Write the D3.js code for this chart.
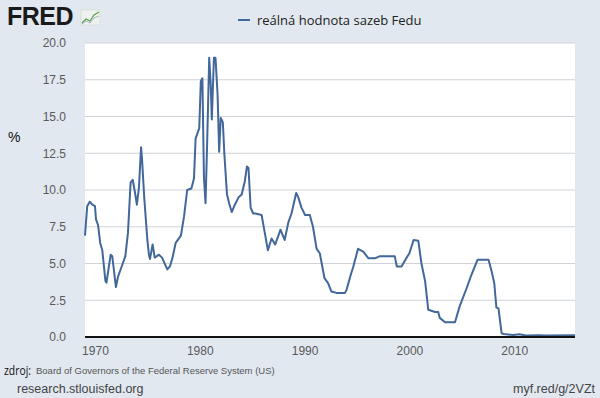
<!DOCTYPE html>
<meta charset="utf-8">
<style>
body { margin: 0; background: #e1e8f0; }
svg { display: block; font-family: "Liberation Sans", Arial, sans-serif; }
.grid line { stroke: #cfd3d8; stroke-width: 1px; }
.axis text { fill: #595959; font-size: 12px; }
.line { fill: none; stroke: #42679a; stroke-width: 2px; stroke-linejoin: round; }
</style>
<svg width="600" height="398"></svg>
<script src="https://cdn.jsdelivr.net/npm/d3@7"></script>
<script>

var years = [
  1969.05, 1969.26, 1969.5, 1969.75, 1970.0, 1970.1, 1970.3, 1970.5, 1970.7, 1971.0,
  1971.1, 1971.5, 1971.65, 1971.8, 1972.0, 1972.2, 1972.6, 1972.9, 1973.15, 1973.4,
  1973.6, 1973.8, 1974.0, 1974.2, 1974.4, 1974.5, 1974.7, 1975.0, 1975.15, 1975.25,
  1975.5, 1975.7, 1976.1, 1976.4, 1976.9, 1977.15, 1977.4, 1977.7, 1978.2, 1978.5,
  1978.8, 1979.2, 1979.45, 1979.6, 1979.8, 1979.95, 1980.1, 1980.25, 1980.4, 1980.55,
  1980.7, 1980.9, 1981.05, 1981.15, 1981.35, 1981.5, 1981.7, 1981.85, 1982.0, 1982.2,
  1982.35, 1982.6, 1982.8, 1983.05, 1983.35, 1983.7, 1984.0, 1984.3, 1984.5, 1984.65,
  1984.85, 1985.1, 1985.3, 1985.9, 1986.2, 1986.5, 1986.85, 1987.2, 1987.5, 1987.7,
  1988.1, 1988.45, 1988.75, 1989.2, 1989.4, 1989.7, 1990.05, 1990.5, 1990.8, 1991.15,
  1991.45, 1991.9, 1992.25, 1992.55, 1993.05, 1993.85, 1994.0, 1994.35, 1994.65, 1995.1,
  1995.6, 1996.1, 1996.7, 1997.2, 1998.6, 1998.8, 1999.25, 1999.7, 2000.0, 2000.4,
  2000.85, 2001.15, 2001.5, 2001.8, 2002.45, 2002.75, 2002.9, 2003.4, 2003.5, 2004.35,
  2004.8, 2005.45, 2005.9, 2006.5, 2007.55, 2007.85, 2008.1, 2008.3, 2008.5, 2008.8,
  2009.0, 2009.9, 2010.5, 2011.1, 2012.4, 2013.0, 2015.8
];
var realRate = [
  6.9, 8.9, 9.2, 9.0, 8.9, 8.0, 7.6, 6.4, 5.9, 3.8,
  3.7, 5.6, 5.5, 4.6, 3.4, 4.1, 4.9, 5.5, 7.1, 10.5,
  10.7, 9.9, 9.0, 10.2, 12.9, 12.0, 9.5, 6.6, 5.6, 5.3,
  6.3, 5.4, 5.6, 5.4, 4.6, 4.8, 5.4, 6.4, 6.9, 8.2,
  10.0, 10.1, 10.8, 13.5, 13.9, 14.2, 17.4, 17.6, 10.8, 9.1,
  13.1, 19.0, 17.1, 14.8, 19.0, 19.0, 16.5, 12.6, 14.9, 14.6,
  12.4, 9.7, 9.1, 8.5, 9.0, 9.5, 9.7, 10.6, 11.6, 11.5,
  8.8, 8.4, 8.4, 8.3, 7.1, 5.9, 6.7, 6.3, 6.9, 7.3,
  6.6, 7.8, 8.4, 9.8, 9.5, 8.8, 8.3, 8.3, 7.5, 6.0,
  5.7, 4.0, 3.65, 3.1, 3.0, 3.0, 3.2, 4.1, 4.8, 6.0,
  5.8, 5.35, 5.35, 5.5, 5.5, 4.8, 4.8, 5.35, 5.7, 6.6,
  6.55, 5.0, 3.8, 1.85, 1.7, 1.7, 1.3, 1.0, 1.0, 1.0,
  2.1, 3.3, 4.2, 5.25, 5.25, 4.45, 3.65, 2.0, 1.95, 0.25,
  0.2, 0.13, 0.18, 0.1, 0.12, 0.1, 0.12
];
var yTicks = [0, 2.5, 5, 7.5, 10, 12.5, 15, 17.5, 20];
var xTicks = [1970, 1980, 1990, 2000, 2010];
var seriesName = "reálná hodnota sazeb Fedu";

var svg = d3.select("svg"),
    margin = {top: 43, right: 25, bottom: 61, left: 85},
    width = svg.attr("width") - margin.left - margin.right,
    height = svg.attr("height") - margin.top - margin.bottom;

var data = years.map(function(t, i) { return {t: t, v: realRate[i]}; });

var x = d3.scaleLinear().domain([1969.05, 2015.8]).range([0, width]),
    y = d3.scaleLinear().domain([0, 20]).range([height, 0]);

var g = svg.append("g").attr("transform", "translate(" + margin.left + "," + margin.top + ")");

g.append("rect")
    .attr("width", width)
    .attr("height", height)
    .attr("fill", "#fff");

g.append("g")
    .attr("class", "grid")
  .selectAll("line")
  .data(yTicks.slice(1))
  .enter().append("line")
    .attr("x1", 0)
    .attr("x2", width)
    .attr("y1", function(d) { return y(d); })
    .attr("y2", function(d) { return y(d); });

var yAxis = g.append("g")
    .attr("class", "axis")
    .call(d3.axisLeft(y).tickValues(yTicks).tickFormat(d3.format(".1f")).tickSize(0).tickPadding(19));
yAxis.select(".domain").remove();

var xAxis = g.append("g")
    .attr("class", "axis")
    .attr("transform", "translate(0," + height + ")")
    .call(d3.axisBottom(x).tickValues(xTicks).tickFormat(d3.format("d")).tickSize(0).tickPadding(9));
xAxis.select(".domain").remove();

g.append("path")
    .datum(data)
    .attr("class", "line")
    .attr("d", d3.line()
      .x(function(d) { return x(d.t); })
      .y(function(d) { return y(d.v); }));

g.append("line")
    .attr("x1", 0)
    .attr("x2", width)
    .attr("y1", height)
    .attr("y2", height)
    .attr("stroke", "#111")
    .attr("stroke-width", 2);

// y label
svg.append("text")
    .attr("x", 8)
    .attr("y", 142)
    .attr("fill", "#111")
    .style("font-size", "14px")
    .text("%");

// legend
var legend = svg.append("g").attr("transform", "translate(238,20)");
legend.append("line")
    .attr("x1", 0).attr("x2", 12)
    .attr("stroke", "#42679a").attr("stroke-width", 2);
legend.append("text")
    .attr("x", 19)
    .attr("y", 5)
    .attr("fill", "#222")
    .style("font-family", "'Open Sans', sans-serif")
    .style("font-size", "13px")
    .text(seriesName);

// FRED logo
var logo = svg.append("g").attr("transform", "translate(7,7)");
logo.append("text")
    .attr("x", 0)
    .attr("y", 18)
    .attr("fill", "#1a1a1a")
    .style("font-family", "'Liberation Sans', Arial, sans-serif")
    .style("font-weight", "bold")
    .style("font-size", "25px")
    .style("letter-spacing", "-0.5px")
    .text("FRED");
logo.append("rect")
    .attr("x", 74).attr("y", 3).attr("width", 19).attr("height", 15)
    .attr("fill", "#eef2ee").attr("stroke", "#c9d1c9").attr("stroke-width", 0.5);
logo.append("path")
    .attr("d", "M75,16 L79,12 L83,14 L87,8 L92,5")
    .attr("fill", "none").attr("stroke", "#5aa04a").attr("stroke-width", 1.2);
logo.append("path")
    .attr("d", "M75,17 L79,14 L83,16 L87,11 L92,9")
    .attr("fill", "none").attr("stroke", "#8aa6c8").attr("stroke-width", 0.8);

// footer
svg.append("text")
    .attr("x", 4)
    .attr("y", 375)
    .attr("fill", "#111")
    .attr("textLength", 27)
    .attr("lengthAdjust", "spacingAndGlyphs")
    .style("font-family", "'Open Sans', sans-serif")
    .style("font-size", "13px")
    .text("zdroj:");
svg.append("text")
    .attr("x", 36)
    .attr("y", 374)
    .attr("fill", "#555")
    .style("font-size", "9.5px")
    .text("Board of Governors of the Federal Reserve System (US)");
svg.append("text")
    .attr("x", 17)
    .attr("y", 393)
    .attr("fill", "#444")
    .style("font-size", "12.5px")
    .text("research.stlouisfed.org");
svg.append("text")
    .attr("x", 595)
    .attr("y", 393)
    .attr("text-anchor", "end")
    .attr("fill", "#444")
    .style("font-size", "12.5px")
    .text("myf.red/g/2VZt");

</script>
